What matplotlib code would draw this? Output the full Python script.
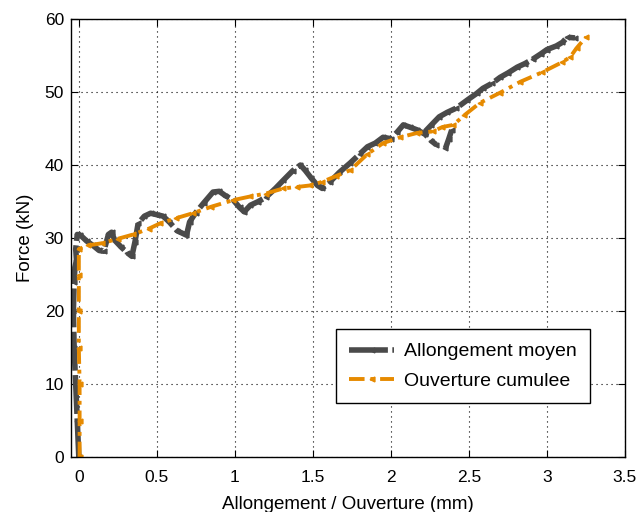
import numpy as np
import matplotlib
matplotlib.use("Agg")
import matplotlib.pyplot as plt

plt.rcParams['font.family'] = ['Liberation Sans', 'DejaVu Sans']

# Allongement moyen (mm) / force (kN); nan marks a break in the record
allong_x = [0.0, -0.01, -0.02, -0.03, -0.035, -0.03, -0.025, -0.015, -0.02, -0.01,
            0.01, 0.05, 0.09, 0.13, 0.16, 0.19, 0.21, 0.23, 0.27, 0.31, 0.34, 0.36,
            0.38, 0.42, 0.46, 0.50, 0.54, 0.58, 0.63, 0.69, 0.71, 0.75, 0.80, 0.86,
            0.90, 0.94, 0.99, 1.03, 1.06, 1.10, 1.15, 1.20, 1.26, 1.31, 1.37, 1.42,
            1.45, 1.49, 1.53, 1.56, 1.61, 1.67, 1.74, 1.80, 1.85, 1.90, 1.95, 2.00,
            2.04, 2.08, 2.12, 2.17, 2.22, 2.26, 2.29, np.nan, 2.35, 2.37, 2.39,
            np.nan, 2.22, 2.26, 2.31, 2.36, 2.42, 2.49, 2.55, 2.59, 2.65, 2.70, 2.75,
            2.81, 2.86, 2.91, 2.96, 3.00, 3.06, 3.10, 3.13, 3.18]
allong_f = [0.0, 5.0, 10.0, 15.0, 20.0, 24.0, 26.0, 27.0, 28.5, 30.5,
            30.4, 29.6, 29.0, 28.3, 28.2, 30.5, 30.8, 29.7, 28.8, 28.0, 27.5, 29.5,
            32.0, 33.0, 33.4, 33.2, 33.0, 32.2, 31.0, 30.4, 32.2, 33.5, 34.8, 36.3,
            36.4, 35.8, 35.2, 34.2, 33.6, 34.5, 35.0, 35.6, 36.8, 37.9, 39.2, 40.0,
            39.3, 38.2, 37.2, 36.8, 37.7, 39.0, 40.3, 41.5, 42.5, 43.0, 43.8, 43.6,
            44.5, 45.5, 45.2, 44.8, 44.2, 43.3, 42.8, np.nan, 42.3, 43.5, 44.8,
            np.nan, 44.6, 45.5, 46.6, 47.2, 47.8, 48.9, 49.8, 50.5, 51.2, 52.0, 52.6,
            53.4, 53.9, 54.5, 55.2, 55.8, 56.3, 56.8, 57.5, 57.4]

# Ouverture cumulee (mm) / force (kN)
ouvert_x = [0.005, 0.005, 0.005, 0.0, 0.0, 0.0, 0.0, 0.06, 0.15, 0.25, 0.35, 0.45,
            0.52, 0.62, 0.73, 0.85, 0.99, 1.10, 1.20, 1.31, 1.40, 1.48, 1.56, 1.65,
            1.74, 1.85, 1.95, 2.06, 2.17, 2.27, 2.33, 2.40, 2.47, 2.57, 2.70, 2.83,
            2.97, 3.10, 3.15, 3.19, 3.25]
ouvert_f = [0.0, 5.0, 10.0, 15.0, 20.0, 25.0, 28.5, 29.0, 29.3, 29.9, 30.5, 31.3,
            32.0, 32.7, 33.4, 34.3, 35.2, 35.7, 36.1, 36.8, 37.0, 37.2, 37.7, 38.5,
            39.3, 41.5, 43.0, 43.8, 44.4, 44.6, 45.2, 45.5, 46.8, 48.5, 49.9, 51.4,
            52.7, 54.1, 54.8, 56.0, 57.5]

x_ticks = [0, 0.5, 1, 1.5, 2, 2.5, 3, 3.5]
x_labels = ['0', '0.5', '1', '1.5', '2', '2.5', '3', '3.5']
y_ticks = [0, 10, 20, 30, 40, 50, 60]

fig = plt.figure(figsize=(6.37, 5.12), dpi=100)
ax = fig.add_axes([0.1115, 0.107, 0.8695, 0.856])

ax.plot(allong_x, allong_f, color='#4a4a4a', linestyle=(0, (7, 0.8)), linewidth=4.0,
        marker='<', markersize=3.5, label='Allongement moyen')
ax.plot(ouvert_x, ouvert_f, color='#e68a00', linestyle=(0, (4, 1.5, 1, 1.5)),
        linewidth=2.8, marker='<', markersize=3.5, label='Ouverture cumulee')

ax.set_xlim(-0.05, 3.5)
ax.set_ylim(0, 60)
ax.set_xticks(x_ticks)
ax.set_xticklabels(x_labels)
ax.set_yticks(y_ticks)
ax.grid(True, color='black', linestyle=(0, (1, 3.5)), linewidth=0.8)
ax.tick_params(direction='in', top=True, right=True, length=5, labelsize=12.5)
ax.tick_params(axis='x', pad=9)
ax.tick_params(axis='y', pad=5)
for s in ax.spines.values():
    s.set_linewidth(1.0)

ax.set_xlabel('Allongement / Ouverture (mm)', fontsize=13.5, labelpad=8)
ax.set_ylabel('Force (kN)', fontsize=13.5, labelpad=8)

leg = ax.legend(loc='lower right', bbox_to_anchor=(0.937, 0.123), fontsize=14,
                fancybox=False, edgecolor='black', framealpha=1, handlelength=2.3,
                handletextpad=0.5, labelspacing=0.6, borderpad=0.7,
                borderaxespad=0)
leg.get_frame().set_linewidth(1.0)

fig.savefig('out.png', dpi=100)
